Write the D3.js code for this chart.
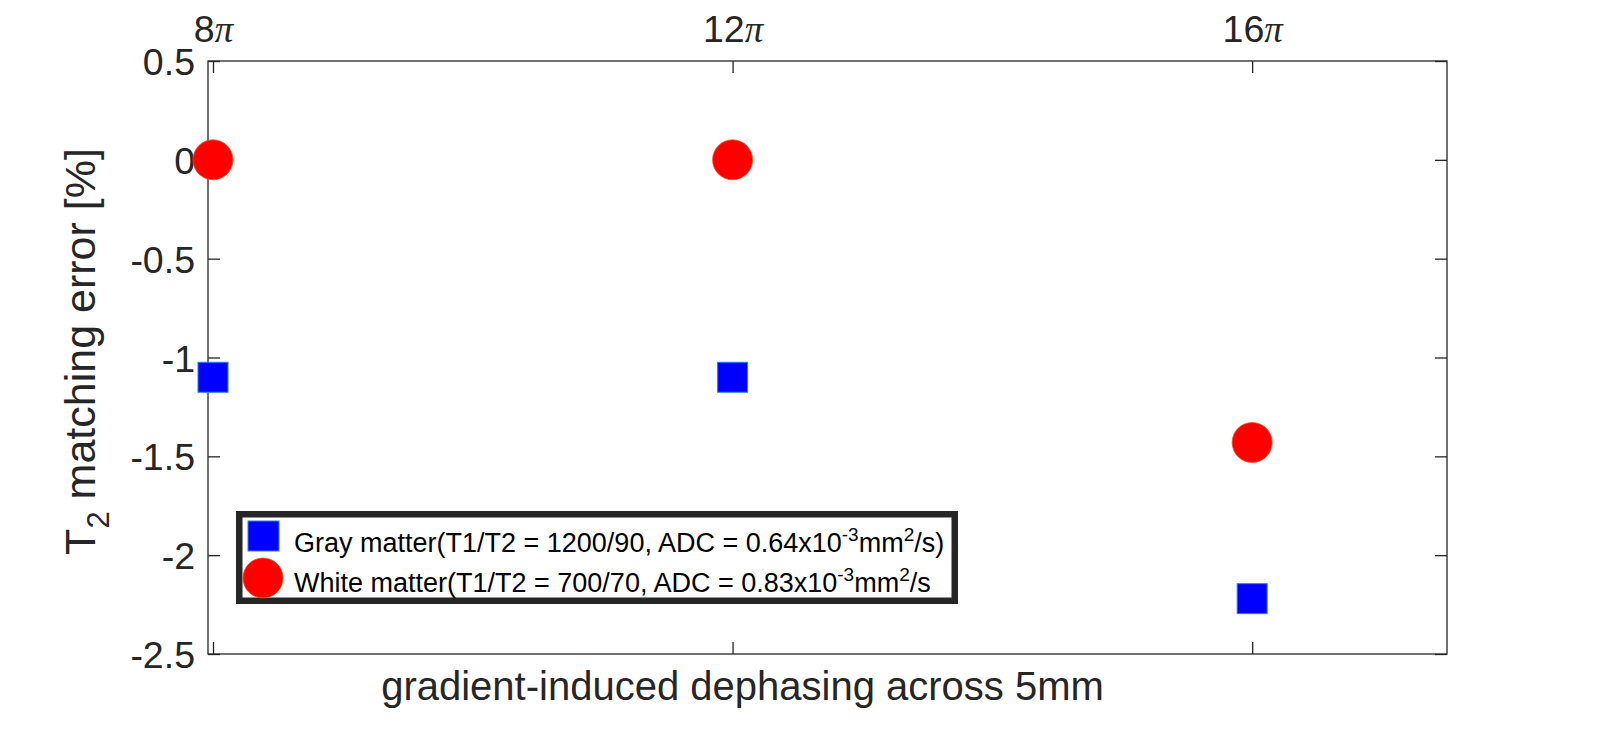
<!DOCTYPE html>
<html>
<head>
<meta charset="utf-8">
<script src="https://cdn.jsdelivr.net/npm/d3@7"></script>
<style>
  html, body { margin: 0; padding: 0; background: #fff; }
  svg { display: block; font-family: "Liberation Sans", Arial, Helvetica, sans-serif; }
</style>
</head>
<body>
<svg id="chart" width="1600" height="736"></svg>
<script>
// dephasing across 5mm, in multiples of pi
const dephasing = [8, 12, 16];
const dephasingLabels = ['8', '12', '16'];
// T2 matching error [%]
const grayMatter = [-1.1, -1.1, -2.22];
const whiteMatter = [0, 0, -1.43];
const yTicks = [0.5, 0, -0.5, -1, -1.5, -2, -2.5];
const yTickLabels = ['0.5', '0', '-0.5', '-1', '-1.5', '-2', '-2.5'];

const axisColor = '#262626';
const box = { left: 208, right: 1447, top: 61, bottom: 654 };

const svg = d3.select('#chart');

const x = d3.scaleLinear().domain([7.9615, 17.5]).range([box.left, box.right]);
const y = d3.scaleLinear().domain([-2.5, 0.5]).range([box.bottom, box.top]);

//styles every axis the same way: inward ticks, no domain line
function styleAxis(g) {
    g.select('.domain').remove();
    g.selectAll('.tick line').attr('stroke', axisColor).attr('stroke-width', 1.3);
    g.selectAll('.tick text').attr('fill', axisColor);
}

// left axis with labels
svg.append('g')
    .attr('transform', `translate(${box.left},0)`)
    .call(d3.axisLeft(y).tickValues(yTicks).tickSize(-12).tickPadding(13)
        .tickFormat((d, i) => yTickLabels[i]))
    .call(styleAxis)
    .call(g => g.selectAll('.tick text').attr('font-size', 37.5).attr('font-family', null).attr('dy', '0.36em'));

// right axis, ticks only
svg.append('g')
    .attr('transform', `translate(${box.right},0)`)
    .call(d3.axisRight(y).tickValues(yTicks).tickSize(-12).tickFormat(''))
    .call(styleAxis);

// top axis with the pi labels
const topAxis = svg.append('g')
    .attr('transform', `translate(0,${box.top})`)
    .call(d3.axisTop(x).tickValues(dephasing).tickSize(-12).tickPadding(19).tickFormat(''))
    .call(styleAxis);

topAxis.selectAll('.tick text')
    .attr('font-size', 37.5)
    .attr('font-family', null)
    .attr('dy', 0)
    .each(function (d, i) {
        const t = d3.select(this);
        t.append('tspan').text(dephasingLabels[i]);
        t.append('tspan')
            .attr('font-family', '"Liberation Serif", "DejaVu Serif", serif')
            .attr('font-style', 'italic')
            .attr('font-size', 37)
            .text('\u03C0');
    });

// bottom axis, ticks only
svg.append('g')
    .attr('transform', `translate(0,${box.bottom})`)
    .call(d3.axisBottom(x).tickValues(dephasing).tickSize(-12).tickFormat(''))
    .call(styleAxis);

// axes box
svg.append('rect')
    .attr('x', box.left).attr('y', box.top)
    .attr('width', box.right - box.left).attr('height', box.bottom - box.top)
    .attr('fill', 'none').attr('stroke', axisColor).attr('stroke-width', 1.3);

// x label
svg.append('text')
    .attr('x', (box.left + box.right) / 2 - 85)
    .attr('y', 700)
    .attr('text-anchor', 'middle')
    .attr('font-size', 40)
    .attr('fill', axisColor)
    .text('gradient-induced dephasing across 5mm');

// y label with subscript
const yLabel = svg.append('text')
    .attr('transform', `translate(95,${(box.top + box.bottom) / 2 - 6}) rotate(-90)`)
    .attr('text-anchor', 'middle')
    .attr('font-size', 43)
    .attr('fill', axisColor);
yLabel.append('tspan').text('T');
yLabel.append('tspan').attr('font-size', 31).attr('dy', 14).text('2');
yLabel.append('tspan').attr('dy', -14).text(' matching error [%]');

// markers
const squareSize = 30;
svg.append('g').selectAll('rect')
    .data(dephasing.map((d, i) => [d, grayMatter[i]]))
    .join('rect')
    .attr('x', d => x(d[0]) - squareSize / 2)
    .attr('y', d => y(d[1]) - squareSize / 2)
    .attr('width', squareSize).attr('height', squareSize)
    .attr('fill', '#0000ff').attr('stroke', '#2f7fe8').attr('stroke-width', 1);

svg.append('g').selectAll('circle')
    .data(dephasing.map((d, i) => [d, whiteMatter[i]]))
    .join('circle')
    .attr('cx', d => x(d[0]))
    .attr('cy', d => y(d[1]))
    .attr('r', 20)
    .attr('fill', '#ff0000').attr('stroke', '#f0501e').attr('stroke-width', 0.8);

// legend
const legend = svg.append('g');
legend.append('rect')
    .attr('x', 239.25).attr('y', 514.25).attr('width', 715.5).attr('height', 86.5)
    .attr('fill', '#fff').attr('stroke', axisColor).attr('stroke-width', 6.5);

legend.append('rect')
    .attr('x', 248).attr('y', 521).attr('width', 31).attr('height', 30)
    .attr('fill', '#0000ff').attr('stroke', '#2f7fe8').attr('stroke-width', 1);
legend.append('circle')
    .attr('cx', 263).attr('cy', 578).attr('r', 20)
    .attr('fill', '#ff0000').attr('stroke', '#f0501e').attr('stroke-width', 0.8);

const legendRows = [
    { y: 552, pre: 'Gray matter(T1/T2 = 1200/90, ADC = 0.64x10', post: '/s)' },
    { y: 592, pre: 'White matter(T1/T2 = 700/70, ADC = 0.83x10', post: '/s' }
];

legendRows.forEach(r => {
    const t = legend.append('text')
        .attr('x', 294).attr('y', r.y)
        .attr('font-size', 27).attr('fill', '#000');
    t.append('tspan').text(r.pre);
    t.append('tspan').attr('font-size', 19).attr('dy', -11).text('-3');
    t.append('tspan').attr('dy', 11).text('mm');
    t.append('tspan').attr('font-size', 19).attr('dy', -11).text('2');
    t.append('tspan').attr('dy', 11).text(r.post);
});
</script>
</body>
</html>
